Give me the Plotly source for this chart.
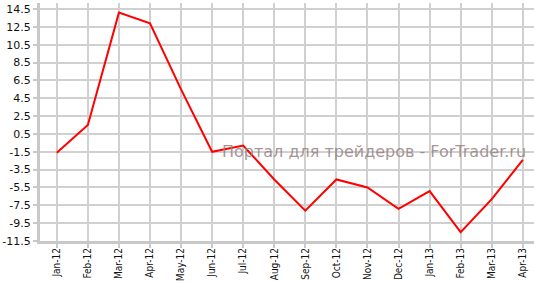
import plotly.graph_objects as go

months = ["Jan-12", "Feb-12", "Mar-12", "Apr-12", "May-12", "Jun-12", "Jul-12", "Aug-12",
          "Sep-12", "Oct-12", "Nov-12", "Dec-12", "Jan-13", "Feb-13", "Mar-13", "Apr-13"]
values = [-1.6, 1.5, 14.1, 12.9, 5.5, -1.5, -0.8, -4.6,
          -8.1, -4.6, -5.5, -7.9, -5.9, -10.5, -6.8, -2.4]
y_ticks = [14.5, 12.5, 10.5, 8.5, 6.5, 4.5, 2.5, 0.5, -1.5, -3.5, -5.5, -7.5, -9.5, -11.5]
watermark = "Портал для трейдеров - ForTrader.ru"

idx = list(range(len(months)))

fig = go.Figure()
fig.add_trace(go.Scatter(x=idx, y=values, mode="lines",
                         line=dict(color="#ff0000", width=2), hoverinfo="skip"))

fig.add_annotation(text=watermark, xref="paper", yref="paper", x=0.988, y=0.375,
                   xanchor="right", yanchor="middle", showarrow=False,
                   font=dict(family="DejaVu Sans", size=16, color="rgba(150,130,130,0.85)"))

fig.update_layout(
    width=534, height=281,
    margin=dict(l=40, r=0, t=3, b=40),
    paper_bgcolor="white", plot_bgcolor="white",
    showlegend=False,
    font=dict(family="DejaVu Sans", size=11, color="#111111"),
    xaxis=dict(range=[-0.54, 15.36], tickmode="array", tickvals=idx, ticktext=months,
               tickangle=-90, showgrid=True, gridcolor="#d0d0d0", gridwidth=1.5,
               zeroline=False, showline=True, linecolor="#c8c8c8", linewidth=3,
               ticks="outside", ticklen=4, tickcolor="#c8c8c8", tickwidth=2,
               ticklabelstandoff=-4,
               automargin=False,
               tickfont=dict(family="DejaVu Sans Condensed, Liberation Sans, sans-serif", size=10)),
    yaxis=dict(range=[-11.5, 15.18], tickmode="array", tickvals=y_ticks,
               ticktext=[f"{v:.1f}" for v in y_ticks],
               showgrid=True, gridcolor="#d0d0d0", gridwidth=1.5,
               zeroline=False, showline=True, linecolor="#c8c8c8", linewidth=3,
               ticks="outside", ticklen=4, tickcolor="#c8c8c8", tickwidth=2,
               automargin=False, tickfont=dict(size=11)),
)

fig.write_html("out.html")
